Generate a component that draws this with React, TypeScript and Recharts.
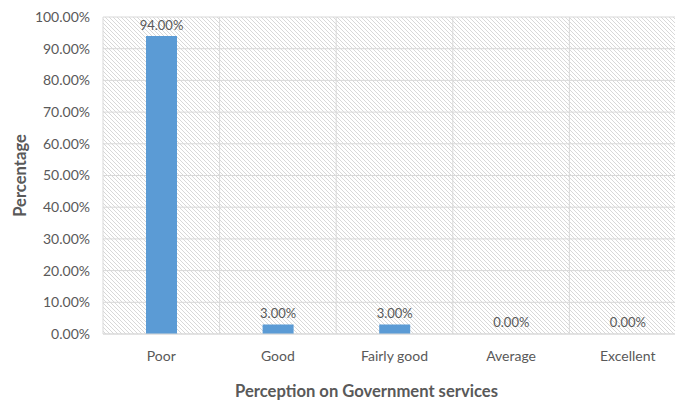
import React from 'react';
import { BarChart, Bar, XAxis, YAxis, CartesianGrid, LabelList, Label, Rectangle } from 'recharts';

const categories = ['Poor', 'Good', 'Fairly good', 'Average', 'Excellent'];
const percentages = [94, 3, 3, 0, 0];
const yTicks = [0, 10, 20, 30, 40, 50, 60, 70, 80, 90, 100];

const fmt = (v: number) => `${Number(v).toFixed(2)}%`;

const data = categories.map((c, i) => ({ name: c, value: percentages[i], label: fmt(percentages[i]) }));

const FONT = 'Lato, "Open Sans", sans-serif';
const TXT = '#595959';

const XTitle = (props: any) => {
  const vb = props.viewBox || {};
  return (
    <text
      x={vb.x + vb.width / 2 - 28}
      y={vb.y + vb.height - 5}
      textAnchor="middle"
      fontFamily={FONT}
      fontSize={16.6}
      fontWeight="bold"
      fill={TXT}
    >
      Perception on Government services
    </text>
  );
};

const YTitle = (props: any) => {
  const vb = props.viewBox || {};
  const cx = 20;
  const cy = vb.y + vb.height / 2;
  return (
    <text
      x={cx}
      y={cy}
      transform={`rotate(-90, ${cx}, ${cy})`}
      textAnchor="middle"
      dominantBaseline="central"
      fontFamily={FONT}
      fontSize={16.6}
      fontWeight="bold"
      fill={TXT}
    >
      Percentage
    </text>
  );
};

const BarLabel = (props: any) => {
  const { x, y, width, value } = props;
  if (x == null || y == null) return null;
  return (
    <text
      x={Number(x) + Number(width) / 2}
      y={Number(y) - 6}
      textAnchor="middle"
      fontFamily={FONT}
      fontSize={13}
      fill={TXT}
    >
      {value}
    </text>
  );
};

const BarShape = (props: any) => {
  const v = props.payload ? props.payload.value : props.value;
  if (!v) return <g />;
  return <Rectangle {...props} />;
};

export default function App() {
  return (
    <div style={{ width: 675, height: 402, overflow: 'hidden', position: 'relative' }}>
      <style>{`html,body{margin:0;padding:0;overflow:hidden;}`}</style>
      <BarChart
        width={708}
        height={402}
        data={data}
        margin={{ top: 17, right: 22, bottom: 0, left: 8 }}
      >
        <defs>
          <pattern id="hatch" patternUnits="userSpaceOnUse" width="4" height="4">
            <rect width="4" height="4" fill="#ffffff" />
            <path d="M0,0 L4,4 M-1,3 L1,5 M3,-1 L5,1" stroke="#d4d4d4" strokeWidth="0.9" />
          </pattern>
        </defs>
        <CartesianGrid
          stroke="#d9d9d9"
          fill="url(#hatch)"
          fillOpacity={1}
          verticalCoordinatesGenerator={({ offset }: any) =>
            categories.map((_, i) => offset.left + (i * offset.width) / categories.length).concat([offset.left + offset.width])
          }
        />
        <XAxis
          dataKey="name"
          height={68}
          tickLine={false}
          axisLine={{ stroke: '#d9d9d9' }}
          tick={{ fill: TXT, fontSize: 14, fontFamily: FONT }}
          tickMargin={11}
          interval={0}
        >
          <Label content={<XTitle />} />
        </XAxis>
        <YAxis
          width={95}
          domain={[0, 100]}
          ticks={yTicks}
          tickFormatter={fmt}
          tickLine={false}
          axisLine={false}
          tick={{ fill: TXT, fontSize: 14, fontFamily: FONT }}
          tickMargin={7}
          interval={0}
        >
          <Label content={<YTitle />} />
        </YAxis>
        <Bar
          dataKey="value"
          fill="#5B9BD5"
          barSize={31}
          minPointSize={1}
          shape={<BarShape />}
          isAnimationActive={false}
        >
          <LabelList dataKey="label" content={<BarLabel />} />
        </Bar>
      </BarChart>
    </div>
  );
}
